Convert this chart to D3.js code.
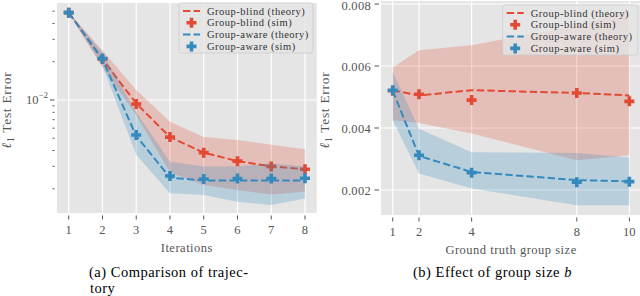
<!DOCTYPE html>
<html>
<head>
<meta charset="utf-8">
<script src="https://cdn.jsdelivr.net/npm/d3@7"></script>
<style>
  body { margin: 0; background: #fff; }
</style>
</head>
<body>
<div class="chart"></div>
<script>
// (a) trajectory over iterations
const iterations = [1, 2, 3, 4, 5, 6, 7, 8];
const trajBlindTheory = [0.0487, 0.0209, 0.0094, 0.0051, 0.00385, 0.0033, 0.0030, 0.00285];
const trajBlindSim = [0.0487, 0.0210, 0.0093, 0.0051, 0.00385, 0.0033, 0.0030, 0.00285];
const trajBlindLo = [0.0482, 0.0180, 0.0076, 0.0027, 0.00214, 0.00196, 0.0018, 0.0019];
const trajBlindHi = [0.0492, 0.0245, 0.0120, 0.00675, 0.0051, 0.00484, 0.00445, 0.0041];
const trajAwareTheory = [0.0487, 0.0209, 0.0052, 0.00245, 0.00232, 0.00232, 0.00232, 0.00232];
const trajAwareSim = [0.0487, 0.0212, 0.0053, 0.00252, 0.00239, 0.00241, 0.00241, 0.00242];
const trajAwareLo = [0.0482, 0.0185, 0.0037, 0.00184, 0.00179, 0.00158, 0.00149, 0.00168];
const trajAwareHi = [0.0492, 0.0235, 0.0080, 0.00327, 0.0030, 0.0030, 0.00317, 0.0030];

// (b) effect of group size
const groupSizes = [1, 2, 4, 8, 10];
const sizeBlindTheory = [0.00522, 0.00505, 0.00522, 0.00513, 0.00505];
const sizeBlindSim = [0.00520, 0.00509, 0.00490, 0.00513, 0.00486];
const sizeBlindLo = [0.00425, 0.00416, 0.00382, 0.00296, 0.00312];
const sizeBlindHi = [0.00595, 0.00651, 0.00667, 0.0073, 0.0078];
const sizeAwareTheory = [0.00520, 0.00310, 0.00258, 0.00232, 0.00228];
const sizeAwareSim = [0.00522, 0.00312, 0.00256, 0.00225, 0.00227];
const sizeAwareLo = [0.00425, 0.00253, 0.00205, 0.00151, 0.00151];
const sizeAwareHi = [0.00581, 0.00398, 0.00322, 0.00319, 0.00305];

const legendLabels = ["Group-blind (theory)", "Group-blind (sim)", "Group-aware (theory)", "Group-aware (sim)"];
const linearTicks = [0.002, 0.004, 0.006, 0.008];
const logMinorTicks = [0.002, 0.003, 0.004, 0.005, 0.006, 0.007, 0.008, 0.009, 0.02, 0.03, 0.04, 0.05];

const width = 640;
const height = 296;
const red = "#E24A33";
const blue = "#348ABD";
const tickColor = "#555";
const serif = "'Liberation Serif', 'Times New Roman', 'DejaVu Serif', serif";

const svg = d3.select(".chart")
  .append("svg")
  .attr("width", width)
  .attr("height", height)
  .attr("font-family", serif)
  .style("font-family", serif);

const plus = (r, a) =>
  `M${-a},${-r}H${a}V${-a}H${r}V${a}H${a}V${r}H${-a}V${a}H${-r}V${-a}H${-a}Z`;

const drawPanel = (cfg) => {
  const { x, y, id } = cfg;
  const [x0, x1] = x.range();
  const [yb, yt] = y.range();

  const g = svg.append("g");

  g.append("clipPath").attr("id", id)
    .append("rect")
    .attr("x", x0).attr("y", yt)
    .attr("width", x1 - x0).attr("height", yb - yt);

  g.append("rect")
    .attr("x", x0).attr("y", yt)
    .attr("width", x1 - x0).attr("height", yb - yt)
    .attr("fill", "#E5E5E5");

  const plot = g.append("g").attr("clip-path", `url(#${id})`);

  // grid
  plot.selectAll(".vgrid")
    .data(cfg.xTicks)
    .enter()
    .append("line")
    .attr("x1", d => x(d)).attr("x2", d => x(d))
    .attr("y1", yt).attr("y2", yb)
    .attr("stroke", "white")
    .attr("stroke-width", 1.2);

  plot.selectAll(".hgrid")
    .data(cfg.yGrid)
    .enter()
    .append("line")
    .attr("x1", x0).attr("x2", x1)
    .attr("y1", d => y(d)).attr("y2", d => y(d))
    .attr("stroke", "white")
    .attr("stroke-width", 1.2);

  const series = [
    { color: red, theory: cfg.blindTheory, sim: cfg.blindSim, lo: cfg.blindLo, hi: cfg.blindHi },
    { color: blue, theory: cfg.awareTheory, sim: cfg.awareSim, lo: cfg.awareLo, hi: cfg.awareHi }
  ];

  series.forEach(s => {
    const rows = cfg.xs.map((v, i) => ({ x: v, t: s.theory[i], s: s.sim[i], lo: s.lo[i], hi: s.hi[i] }));

    plot.append("path")
      .datum(rows)
      .attr("d", d3.area().x(d => x(d.x)).y0(d => y(d.lo)).y1(d => y(d.hi)))
      .attr("fill", s.color)
      .attr("fill-opacity", 0.25);

    plot.append("path")
      .datum(rows)
      .attr("d", d3.line().x(d => x(d.x)).y(d => y(d.t)))
      .attr("fill", "none")
      .attr("stroke", s.color)
      .attr("stroke-width", 2)
      .attr("stroke-dasharray", "7.4,3.2");

    plot.selectAll(null)
      .data(rows)
      .enter()
      .append("path")
      .attr("d", plus(5, 1.8))
      .attr("transform", d => `translate(${x(d.x)},${y(d.s)})`)
      .attr("fill", s.color);
  });

  // x ticks
  const xt = g.append("g");
  cfg.xTicks.forEach(v => {
    xt.append("line")
      .attr("x1", x(v)).attr("x2", x(v))
      .attr("y1", yb + 2.5).attr("y2", yb + 6.5)
      .attr("stroke", tickColor);
    xt.append("text")
      .attr("x", x(v)).attr("y", yb + 21)
      .attr("text-anchor", "middle")
      .attr("font-size", 12.5)
      .attr("fill", tickColor)
      .text(v);
  });

  g.append("text")
    .attr("x", (x0 + x1) / 2)
    .attr("y", yb + 39)
    .attr("text-anchor", "middle")
    .attr("font-size", 12.5)
    .attr("letter-spacing", 0.5)
    .attr("fill", tickColor)
    .text(cfg.xLabel);

  const ylab = g.append("text")
    .attr("transform", `translate(${cfg.yLabelX},110) rotate(-90)`)
    .attr("text-anchor", "middle")
    .attr("font-size", 13.5)
    .attr("letter-spacing", 0.7)
    .attr("fill", tickColor);
  ylab.append("tspan").attr("font-style", "italic").text("ℓ");
  ylab.append("tspan").attr("font-size", 9.5).attr("dy", 3).text("1");
  ylab.append("tspan").attr("dy", -3).text(" Test Error");

  cfg.yAxis(g);

  // legend
  const lg = g.append("g").attr("transform", `translate(${cfg.legend.x},${cfg.legend.y})`);
  lg.append("rect")
    .attr("width", cfg.legend.w).attr("height", 50)
    .attr("rx", 2.5)
    .attr("fill", "#E5E5E5").attr("fill-opacity", 0.8)
    .attr("stroke", "#CCCCCC").attr("stroke-opacity", 0.8);

  legendLabels.forEach((label, i) => {
    const cy = 8 + i * 11.8;
    const color = i < 2 ? red : blue;
    if (i % 2 === 0) {
      lg.append("line")
        .attr("x1", 4).attr("x2", 21)
        .attr("y1", cy).attr("y2", cy)
        .attr("stroke", color)
        .attr("stroke-width", 2)
        .attr("stroke-dasharray", "7.4,3.2");
    } else {
      lg.append("path")
        .attr("d", plus(5, 1.8))
        .attr("transform", `translate(12.5,${cy})`)
        .attr("fill", color);
    }
    lg.append("text")
      .attr("x", 28).attr("y", cy + 3.5)
      .attr("font-size", 10.5)
      .attr("letter-spacing", 0.5)
      .attr("fill", "#333")
      .text(label);
  });
};

// (a)
const xA = d3.scaleLinear().domain([0.65, 8.35]).range([56.9, 316.8]);
const yA = d3.scaleLog().domain([0.001289, 0.058]).range([213, 3]);

drawPanel({
  id: "clip-a",
  x: xA, y: yA,
  xs: iterations,
  xTicks: iterations,
  yGrid: [0.01],
  blindTheory: trajBlindTheory, blindSim: trajBlindSim, blindLo: trajBlindLo, blindHi: trajBlindHi,
  awareTheory: trajAwareTheory, awareSim: trajAwareSim, awareLo: trajAwareLo, awareHi: trajAwareHi,
  xLabel: "Iterations",
  yLabelX: 11,
  legend: { x: 179, y: 3, w: 134 },
  yAxis: (g) => {
    g.append("line")
      .attr("x1", 50).attr("x2", 54.5)
      .attr("y1", yA(0.01)).attr("y2", yA(0.01))
      .attr("stroke", tickColor);
    logMinorTicks.forEach(v => {
      g.append("line")
        .attr("x1", 52.5).attr("x2", 54.5)
        .attr("y1", yA(v)).attr("y2", yA(v))
        .attr("stroke", tickColor);
    });
    const t = g.append("text")
      .attr("x", 48).attr("y", yA(0.01) + 4.5)
      .attr("text-anchor", "end")
      .attr("font-size", 12.5)
      .attr("fill", tickColor);
    t.append("tspan").text("10");
    t.append("tspan").attr("font-size", 9).attr("dy", -6).text("−2");
  }
});

// (b)
const xB = d3.scaleLinear().domain([0.55, 10.45]).range([380.9, 641.2]);
const yB = d3.scaleLinear().domain([0.001194, 0.008097]).range([215, 1]);

drawPanel({
  id: "clip-b",
  x: xB, y: yB,
  xs: groupSizes,
  xTicks: groupSizes,
  yGrid: linearTicks,
  blindTheory: sizeBlindTheory, blindSim: sizeBlindSim, blindLo: sizeBlindLo, blindHi: sizeBlindHi,
  awareTheory: sizeAwareTheory, awareSim: sizeAwareSim, awareLo: sizeAwareLo, awareHi: sizeAwareHi,
  xLabel: "Ground truth group size",
  yLabelX: 329,
  legend: { x: 502.7, y: 5, w: 135 },
  yAxis: (g) => {
    linearTicks.forEach(v => {
      g.append("line")
        .attr("x1", 374.5).attr("x2", 379)
        .attr("y1", yB(v)).attr("y2", yB(v))
        .attr("stroke", tickColor);
      g.append("text")
        .attr("x", 371).attr("y", Math.max(yB(v) + 4.5, 9.5))
        .attr("text-anchor", "end")
        .attr("font-size", 12.5)
        .attr("letter-spacing", 0.3)
        .attr("fill", tickColor)
        .text(d3.format(".3f")(v));
    });
  }
});

// captions
svg.append("text")
  .attr("x", 89).attr("y", 277)
  .attr("font-size", 14.5)
  .attr("letter-spacing", 0.5)
  .text("(a) Comparison of trajec-");
svg.append("text")
  .attr("x", 90).attr("y", 293)
  .attr("font-size", 14.5)
  .attr("letter-spacing", 0.5)
  .text("tory");

const capB = svg.append("text")
  .attr("x", 413).attr("y", 277)
  .attr("font-size", 14.5)
  .attr("letter-spacing", 0.5);
capB.append("tspan").text("(b) Effect of group size ");
capB.append("tspan").attr("font-style", "italic").text("b");
</script>
</body>
</html>
